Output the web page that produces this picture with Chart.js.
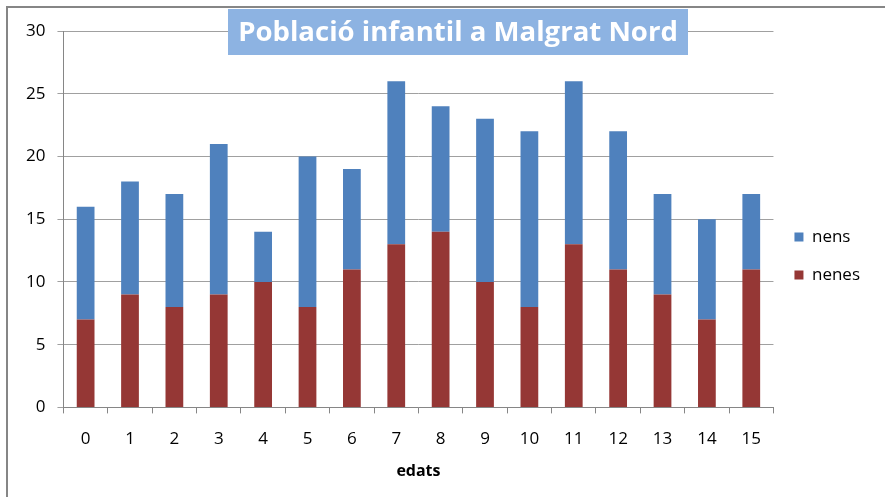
<!DOCTYPE html>
<html>
<head>
<meta charset="utf-8">
<script src="https://cdn.jsdelivr.net/npm/chart.js@4/dist/chart.umd.min.js"></script>
<style>
  html, body { margin: 0; padding: 0; background: #fff; }
  #wrap { position: absolute; left: 0; top: 0; width: 885px; height: 497px; }
</style>
</head>
<body>
<div id="wrap"><canvas id="c" width="885" height="497"></canvas></div>
<script>
// Població infantil a Malgrat Nord — stacked bars by age
const edats = ['0', '1', '2', '3', '4', '5', '6', '7', '8', '9', '10', '11', '12', '13', '14', '15'];
const nenes = [7, 9, 8, 9, 10, 8, 11, 13, 14, 10, 8, 13, 11, 9, 7, 11];
const nens = [9, 9, 9, 12, 4, 12, 8, 13, 10, 13, 14, 13, 11, 8, 8, 6];
const yTicks = [0, 5, 10, 15, 20, 25, 30];

const TITLE = 'Població infantil a Malgrat Nord';
const FONT = "'Open Sans', 'Liberation Sans', sans-serif";

// frame + title box drawn over the chart
const frameAndTitle = {
  id: 'frameAndTitle',
  afterDraw(chart) {
    const ctx = chart.ctx;
    ctx.save();
    ctx.strokeStyle = '#868686';
    ctx.lineWidth = 2;
    ctx.beginPath();
    ctx.moveTo(7, 497);
    ctx.lineTo(7, 7);
    ctx.lineTo(885, 7);
    ctx.stroke();

    // title
    let size = 26;
    ctx.font = 'bold ' + size + 'px ' + FONT;
    const w = ctx.measureText(TITLE).width;
    size = size * 440 / w;
    ctx.font = 'bold ' + size + 'px ' + FONT;
    ctx.fillStyle = '#8DB3E2';
    ctx.fillRect(228, 9, 460, 46);
    ctx.fillStyle = '#ffffff';
    ctx.textAlign = 'center';
    ctx.textBaseline = 'middle';
    ctx.fillText(TITLE, 458, 33);
    ctx.restore();
  }
};

new Chart(document.getElementById('c'), {
  type: 'bar',
  data: {
    labels: edats,
    datasets: [
      { label: 'nenes', data: nenes, backgroundColor: '#953735', categoryPercentage: 1, barPercentage: 0.4 },
      { label: 'nens', data: nens, backgroundColor: '#4F81BD', categoryPercentage: 1, barPercentage: 0.4 }
    ]
  },
  options: {
    responsive: false,
    animation: false,
    layout: { padding: { top: 31, right: 15, left: 14, bottom: 16 } },
    plugins: {
      title: { display: false },
      tooltip: { enabled: false },
      legend: {
        position: 'right',
        reverse: true,
        labels: {
          boxWidth: 9,
          boxHeight: 9,
          padding: 21,
          color: '#000',
          font: { family: FONT, size: 17 }
        }
      }
    },
    scales: {
      x: {
        stacked: true,
        offset: true,
        grid: { offset: true, drawOnChartArea: false, drawTicks: true, tickLength: 6, color: '#868686' },
        border: { color: '#868686' },
        ticks: { color: '#000', font: { family: FONT, size: 17 }, padding: 16 },
        title: { display: true, text: 'edats', color: '#000', font: { family: FONT, size: 16, weight: 'bold' }, padding: { top: -4, bottom: 0 } }
      },
      y: {
        stacked: true,
        min: 0,
        max: 30,
        afterBuildTicks(axis) { axis.ticks = yTicks.map(v => ({ value: v })); },
        grid: { color: '#A0A0A0', tickLength: 6 },
        border: { color: '#868686' },
        ticks: { color: '#000', font: { family: FONT, size: 17 }, padding: 12 }
      }
    }
  },
  plugins: [frameAndTitle]
});
</script>
</body>
</html>
